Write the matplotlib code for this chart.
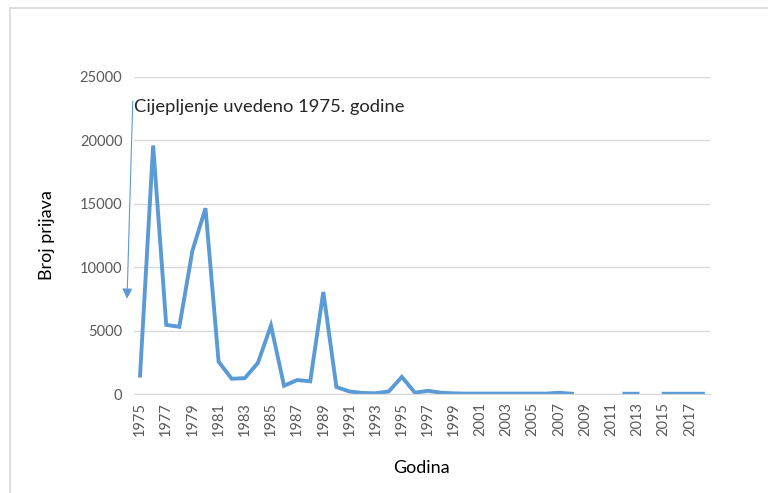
import numpy as np
import matplotlib.pyplot as plt
from matplotlib.lines import Line2D

plt.rcParams['font.family'] = ['Lato', 'DejaVu Sans']

godine = np.arange(1975, 2019)
prijave = [1450, 19600, 5450, 5300, 11300, 14650, 2550, 1200, 1250, 2450,
           5400, 650, 1100, 1000, 8050, 550, 200, 80, 60, 200,
           1350, 100, 250, 100, 50, 30, 30, 30, 30, 30,
           30, 30, 100, 20, np.nan, np.nan, np.nan, 20, 20, np.nan,
           20, 20, 20, 20]
tick_godine = np.arange(1975, 2019, 2)
y_ticks = [0, 5000, 10000, 15000, 20000, 25000]
napomena = 'Cijepljenje uvedeno 1975. godine'

fig = plt.figure(figsize=(7.68, 4.93), dpi=100)
ax = fig.add_axes([133.5/768, 99/493, 576/768, 317/493])

ax.plot(godine, prijave, color='#5b9bd5', lw=2.8, solid_joinstyle='miter')

ax.set_xlim(1974.5, 2018.5)
ax.set_ylim(0, 25000)
ax.set_yticks(y_ticks)
ax.set_xticks(tick_godine)
ax.set_xticklabels([str(g) for g in tick_godine], rotation=90)
ax.tick_params(axis='both', length=0, colors='#595959', labelsize=10.5)
ax.tick_params(axis='y', pad=8)
ax.tick_params(axis='x', pad=6)
ax.grid(axis='y', color='#d9d9d9', lw=1)
ax.set_axisbelow(True)
for s in ['top', 'right', 'left']:
    ax.spines[s].set_visible(False)
ax.spines['bottom'].set_color('#d9d9d9')

ax.set_ylabel('Broj prijava', fontsize=13, labelpad=18)
ax.set_xlabel('Godina', fontsize=13, labelpad=17)

ax.annotate('', xy=(1974.0, 7300), xytext=(1974.45, 23300),
            arrowprops=dict(arrowstyle='-|>', color='#5b9bd5', lw=0.8,
                            mutation_scale=15),
            annotation_clip=False)
ax.text(1974.5, 22600, napomena, fontsize=13.2, color='#262626',
        va='center', ha='left')

# okvir oko grafikona
fig.add_artist(Line2D([10/768, 1], [1 - 8/493, 1 - 8/493],
                      transform=fig.transFigure, color='#d9d9d9', lw=1.2))
fig.add_artist(Line2D([10/768, 10/768], [0, 1 - 8/493],
                      transform=fig.transFigure, color='#d9d9d9', lw=1.2))

fig.savefig('out.png', dpi=100)
